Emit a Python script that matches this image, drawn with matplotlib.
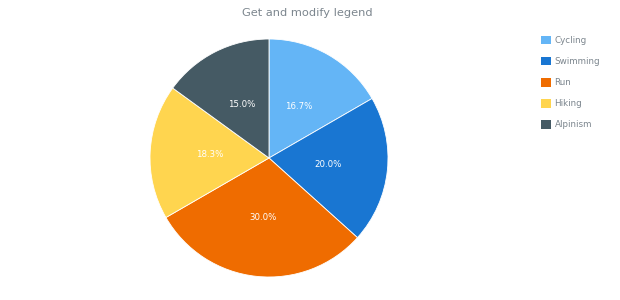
import matplotlib
matplotlib.use("Agg")
import matplotlib.pyplot as plt
from matplotlib.patches import Patch

categories = ["Cycling", "Swimming", "Run", "Hiking", "Alpinism"]
values = [10, 12, 18, 11, 9]
colors = ["#64b5f6", "#1976d2", "#ef6c00", "#ffd54f", "#455a64"]

W, H = 620, 300
fig = plt.figure(figsize=(W / 100, H / 100), dpi=100)
fig.patch.set_facecolor("white")

# pie axes: center (269,158) px, radius ~119 px
cx, cy, r = 269, 158, 119
ax = fig.add_axes([(cx - r) / W, (H - cy - r) / H, 2 * r / W, 2 * r / H])
wedges, texts, autotexts = ax.pie(
    values, colors=colors, startangle=90, counterclock=False,
    radius=1.0, autopct="%.1f%%", pctdistance=0.5,
    wedgeprops=dict(edgecolor="white", linewidth=0.6),
    textprops=dict(color="white", fontsize=6.2),
)
ax.set_xlim(-1, 1)
ax.set_ylim(-1, 1)
ax.set_aspect("equal")
ax.axis("off")

fig.text(307 / W, 1 - 13 / H, "Get and modify legend", ha="center", va="center",
         fontsize=8.2, color="#7c868e")

handles = [Patch(facecolor=c, edgecolor="none") for c in colors]
leg = fig.legend(handles, categories, loc="upper left",
                 bbox_to_anchor=(537.5 / W, 1 - 32.5 / H), frameon=False,
                 fontsize=6.3, handlelength=1.1, handleheight=1.1,
                 handletextpad=0.45, labelspacing=1.36, borderaxespad=0)
for t in leg.get_texts():
    t.set_color("#7c868e")

fig.savefig("out.png", dpi=100)
